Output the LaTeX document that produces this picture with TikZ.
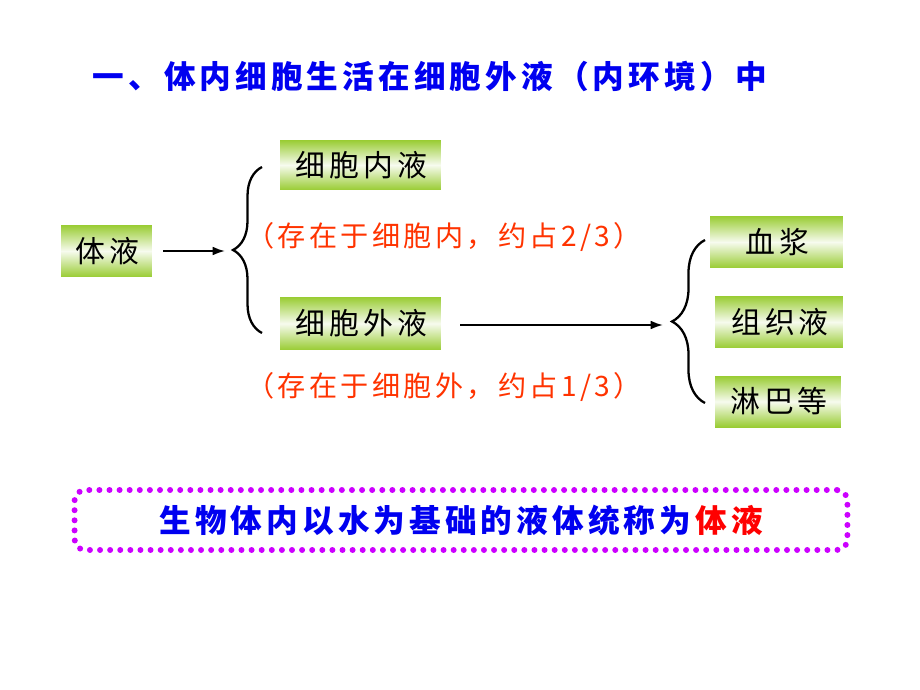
\documentclass[tikz,border=0pt]{standalone}
\usepackage{fontspec}
\setmainfont{Noto Sans CJK SC}
\newfontfamily\spacedfont[LetterSpace=13]{Noto Sans CJK SC}
\newfontfamily\redfont[LetterSpace=12]{Noto Sans CJK SC}
\usetikzlibrary{arrows.meta,decorations.pathreplacing}
\definecolor{leafgreen}{RGB}{153,204,51}
\definecolor{titleblue}{RGB}{0,0,240}
\definecolor{notered}{RGB}{255,51,0}
\definecolor{dotviolet}{RGB}{204,0,255}
\tikzset{
  fluidbox/.style={inner sep=0pt, minimum height=1.04cm, top color=leafgreen,
    bottom color=leafgreen, middle color=white!92!leafgreen,
    font=\spacedfont\fontsize{17}{20}\selectfont},
  notetext/.style={text=notered, font=\redfont\fontsize{16}{19}\selectfont},
  bracepath/.style={decorate, line width=1.3pt, decoration={brace, amplitude=#1}},
  linkarrow/.style={line width=1.1pt, -{Latex[length=7pt,width=5pt]}}
}
\begin{document}
\begin{tikzpicture}[x=0.02cm, y=-0.02cm]
        \useasboundingbox (0,0) rectangle (920,690);
        
        % title
        \node (title) at (430,76) {\spacedfont\bfseries\fontsize{18}{21}\selectfont\color{titleblue}一、体内细胞生活在细胞外液（内环境）中};
        
        % boxes
        \node[fluidbox, minimum width=1.82cm] (tiye) at (106.5,251) {\hspace{1.1pt}体液};
        \node[fluidbox, minimum width=3.22cm, minimum height=1cm] (nei) at (360.5,165) {\hspace{1.1pt}细胞内液};
        \node[fluidbox, minimum width=3.22cm, minimum height=1.06cm] (wai) at (360.5,323.5) {\hspace{1.1pt}细胞外液};
        \node[fluidbox, minimum width=2.66cm] (xuejiang) at (776.5,242) {\hspace{1.1pt}血浆};
        \node[fluidbox, minimum width=2.56cm] (zuzhi) at (779,322) {\hspace{1.1pt}组织液};
        \node[fluidbox, minimum width=2.52cm, minimum height=1.02cm] (linba) at (778,401.5) {\hspace{1.1pt}淋巴等};
        
        \node[notetext] (neinote) at (444,237) {（存在于细胞内，约占2/3）};
        \node[notetext] (wainote) at (444,387) {（存在于细胞外，约占1/3）};
        
        % braces
        \coordinate (braceAtop) at (262,167);
        \coordinate (braceAbot) at (262,333);
        \coordinate (braceAtip) at (231,251);
        \draw[bracepath=0.58cm] (braceAbot) -- (braceAtop);
        
        \coordinate (braceBtop) at (705,240);
        \coordinate (braceBbot) at (705,403);
        \coordinate (braceBtip) at (668,325);
        \draw[bracepath=0.66cm] (braceBbot) -- (braceBtop);
        
        % arrows
        \draw[linkarrow] ([xshift=0.22cm]tiye.east) -- ([xshift=-0.12cm]braceAtip |- tiye.east);
        \draw[linkarrow] ([xshift=0.38cm]wai.east |- braceBtip) -- ([xshift=-0.1cm]braceBtip);
        
        % summary
        \node[draw=dotviolet, line width=3.4pt, line cap=round, dash pattern=on 0pt off 5.75pt,
          rounded corners=6pt, minimum width=15.46cm, minimum height=1.2cm] (summary) at (461,520)
          {\spacedfont\bfseries\fontsize{18}{21}\selectfont\color{titleblue}生物体内以水为基础的液体统称为\hspace{2.3pt}{\color{red}体液}};
\end{tikzpicture}
\end{document}
